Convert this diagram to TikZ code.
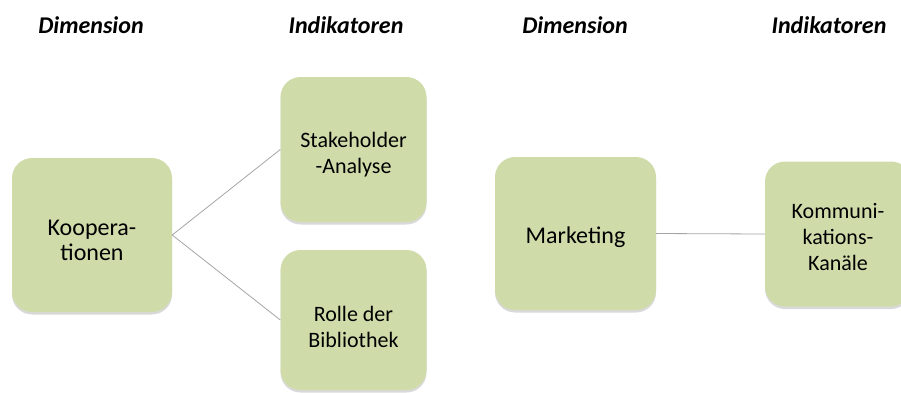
\documentclass[tikz,border=0pt]{standalone}
\usepackage{fontspec}
\setmainfont{Carlito}
\usetikzlibrary{shadows}
\definecolor{boxgreen}{RGB}{207,220,170}
\definecolor{linegray}{RGB}{165,165,165}
% extra room above the first line, so the text sits a little low as in the slide
\newcommand{\lowgap}[1]{\rule{0pt}{#1}}
\begin{document}
\begin{tikzpicture}[x=1pt, y=-1pt,
    greenbox/.style={rectangle, rounded corners=20pt, fill=boxgreen, align=center, inner sep=0pt,
        drop shadow={opacity=0.3, shadow xshift=0pt, shadow yshift=-2.5pt}},
    dimbox/.style={greenbox, minimum width=160pt, minimum height=154pt, font=\fontsize{24}{25}\selectfont},
    indbox/.style={greenbox, minimum width=146pt, minimum height=145pt, font=\fontsize{22}{26}\selectfont},
    heading/.style={anchor=base, font=\fontsize{24}{28}\selectfont\bfseries\itshape},
    link/.style={draw=linegray, line width=0.8pt}
]
    \useasboundingbox (0,0) rectangle (901,392);

    % Headings
    \node[heading] (dim1) at (91,33) {Dimension};
    \node[heading] (ind1) at (346,33) {Indikatoren};
    \node[heading] (dim2) at (575,33) {Dimension};
    \node[heading] (ind2) at (829,33) {Indikatoren};

    % Nodes
    \node[dimbox] (koop) at (92,235) {\lowgap{26pt}Koopera-\\tionen};
    \node[indbox] (stake) at (353.5,149.5) {\lowgap{26pt}Stakeholder\\-Analyse};
    \node[indbox, minimum height=140pt] (rolle) at (353.5,320) {\lowgap{30pt}Rolle der\\Bibliothek};
    \node[dimbox, minimum width=161pt, minimum height=153pt] (market) at (575.5,233.5) {\lowgap{24pt}Marketing};
    \node[indbox] (komm) at (838,234) {\lowgap{21pt}Kommuni-\\kations-\\Kanäle};

    % Lines
    \draw[link] (koop.east) -- (stake.west);
    \draw[link] (koop.east) -- (rolle.west);
    \draw[link] (market.east) -- (komm.west);
\end{tikzpicture}
\end{document}
